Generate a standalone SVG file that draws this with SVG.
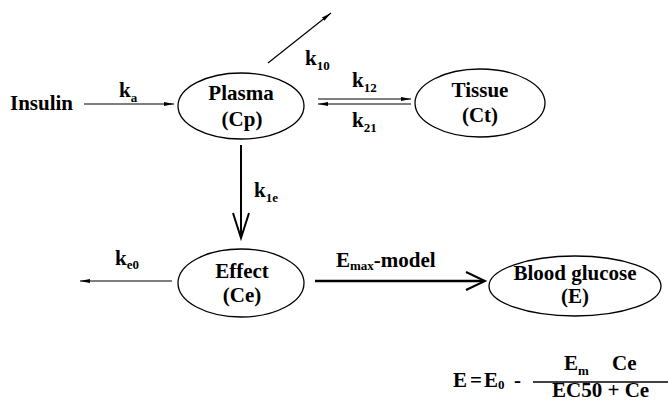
<svg xmlns="http://www.w3.org/2000/svg" width="668" height="401" viewBox="0 0 668 401">
<style>
text{font-family:"Liberation Serif","Times New Roman",serif;font-weight:bold;font-size:21px;fill:#000}
.sub{font-size:13px}
.c{text-anchor:middle}
.node ellipse{fill:#fff;stroke:#000;stroke-width:1.3}
.thin{stroke:#000;stroke-width:1.2;fill:none}
.thick{stroke:#000;stroke-width:2;fill:none}
</style>
<defs>
<marker id="sm" viewBox="0 0 10 6" refX="10" refY="3" markerWidth="10" markerHeight="6" markerUnits="userSpaceOnUse" orient="auto">
<path d="M0,1 L10,3 L0,5 Z" fill="#000"/>
</marker>
</defs>
<rect width="668" height="401" fill="#fff"/>

<g id="connectors">
<line class="thin" x1="84" y1="104" x2="174" y2="104" marker-end="url(#sm)"/>
<line class="thin" x1="268" y1="63" x2="331" y2="13" marker-end="url(#sm)"/>
<line class="thin" x1="318" y1="99" x2="411" y2="99" marker-end="url(#sm)"/>
<line class="thin" x1="411" y1="104" x2="318" y2="104" marker-end="url(#sm)"/>
<line class="thick" x1="241" y1="145" x2="241" y2="238"/>
<polyline class="thick" points="233,213 241,238 249,213"/>
<line class="thin" x1="172" y1="281" x2="80" y2="281" marker-end="url(#sm)"/>
<line class="thick" x1="315" y1="281" x2="484" y2="281" style="stroke-width:2.5"/>
<polyline class="thick" points="466,272 485,281 466,290"/>
</g>

<g id="labels">
<text x="10" y="110">Insulin</text>
<text x="119" y="97">k<tspan class="sub" dy="5">a</tspan></text>
<text x="305" y="65">k<tspan class="sub" dy="5">10</tspan></text>
<text x="352" y="87">k<tspan class="sub" dy="5">12</tspan></text>
<text x="352" y="127">k<tspan class="sub" dy="5">21</tspan></text>
<text x="254" y="197">k<tspan class="sub" dy="5">1e</tspan></text>
<text x="115" y="265">k<tspan class="sub" dy="4">e0</tspan></text>
<text x="336" y="267">E<tspan class="sub" dy="3">max</tspan><tspan dy="-3">-model</tspan></text>
</g>

<g id="plasma" class="node">
<ellipse cx="241" cy="106" rx="63" ry="33"/>
<text class="c" x="241" y="100">Plasma</text>
<text class="c" x="242" y="126">(Cp)</text>
</g>
<g id="tissue" class="node">
<ellipse cx="480" cy="103" rx="65" ry="34"/>
<text class="c" x="480" y="97">Tissue</text>
<text class="c" x="480" y="122">(Ct)</text>
</g>
<g id="effect" class="node">
<ellipse cx="241" cy="283" rx="63" ry="34"/>
<text class="c" x="242" y="278">Effect</text>
<text class="c" x="242" y="302">(Ce)</text>
</g>
<g id="glucose" class="node">
<ellipse cx="575" cy="286" rx="86" ry="30"/>
<text class="c" x="575" y="280">Blood glucose</text>
<text class="c" x="575" y="303">(E)</text>
</g>

<g id="equation">
<text y="387"><tspan x="453">E</tspan><tspan x="470">=</tspan><tspan x="484">E</tspan><tspan class="sub" x="498" dy="2">0</tspan><tspan x="514" dy="-2">-</tspan></text>
<text x="564" y="370">E<tspan class="sub" dy="5">m</tspan></text>
<text x="612" y="370">Ce</text>
<line x1="533" y1="382" x2="668" y2="382" stroke="#000" stroke-width="1.5"/>
<text x="552" y="397">EC50 + Ce</text>
</g>
</svg>
